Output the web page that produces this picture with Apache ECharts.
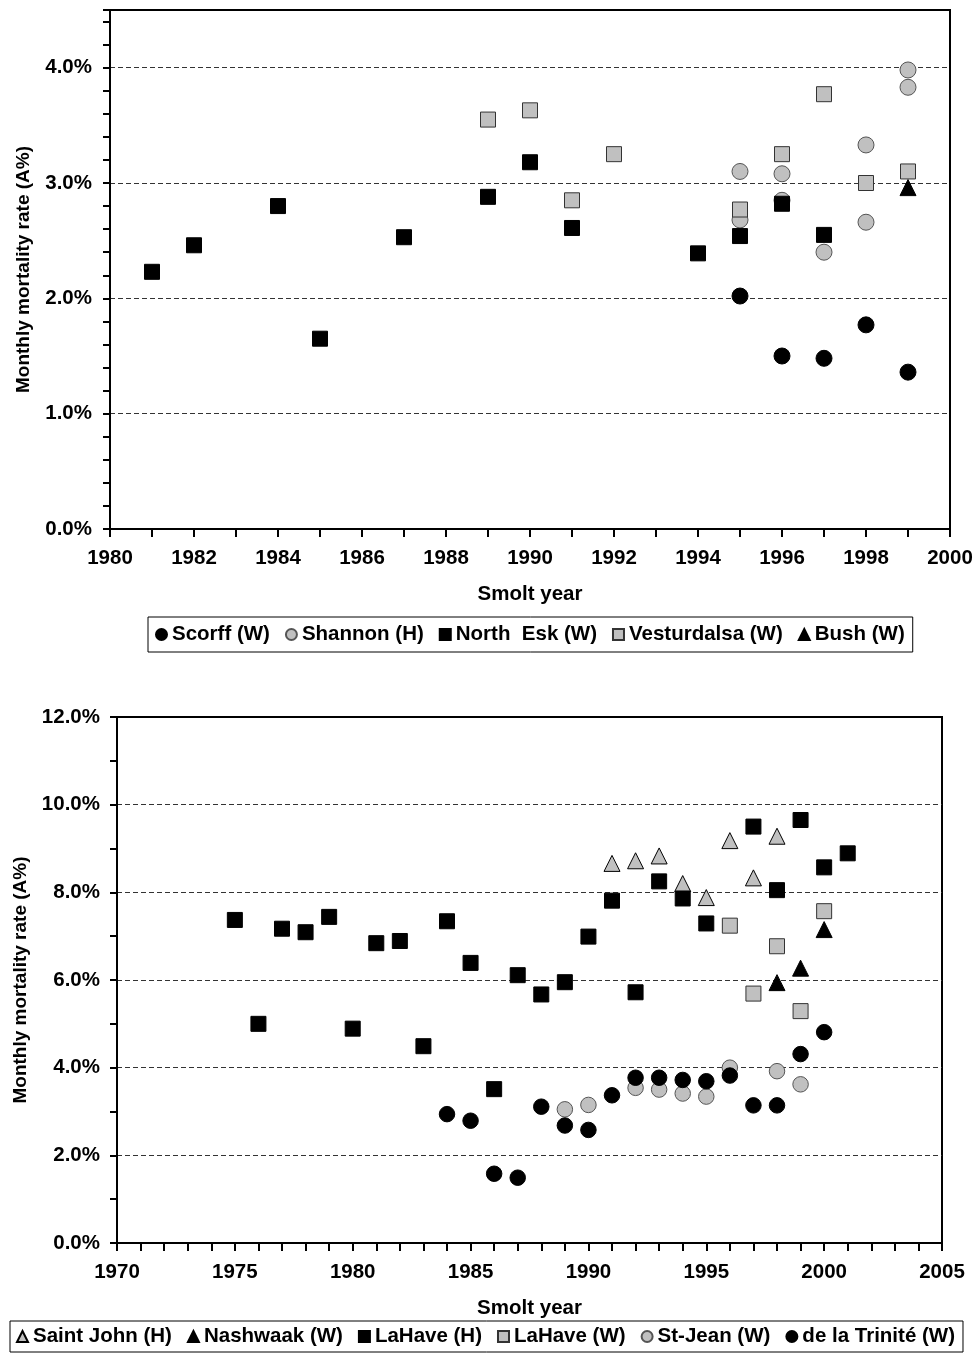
<!DOCTYPE html>
<html>
<head>
<meta charset="utf-8">
<title>Monthly mortality rate by smolt year</title>
<script src="https://cdn.jsdelivr.net/npm/echarts@6/dist/echarts.min.js"></script>
<style>
  html, body { margin: 0; padding: 0; background: #fff; }
  #chart { width: 977px; height: 1355px; }
</style>
</head>
<body>
<div id="chart"></div>
<script>
// ---- Upper panel: European rivers (monthly mortality, %) ----
const scorffYears = [1995, 1996, 1997, 1998, 1999];
const scorffRates = [2.02, 1.50, 1.48, 1.77, 1.36];

const shannonYears = [1995, 1995, 1996, 1996, 1997, 1998, 1998, 1999, 1999];
const shannonRates = [3.10, 2.68, 3.08, 2.85, 2.40, 3.33, 2.66, 3.98, 3.83];

const northEskYears = [1981, 1982, 1984, 1985, 1987, 1989, 1990, 1991, 1994, 1995, 1996, 1997];
const northEskRates = [2.23, 2.46, 2.80, 1.65, 2.53, 2.88, 3.18, 2.61, 2.39, 2.54, 2.82, 2.55];

const vesturdalsaYears = [1989, 1990, 1991, 1992, 1995, 1996, 1997, 1998, 1999];
const vesturdalsaRates = [3.55, 3.63, 2.85, 3.25, 2.77, 3.25, 3.77, 3.00, 3.10];

const bushYears = [1999];
const bushRates = [2.96];

// ---- Lower panel: North American rivers (monthly mortality, %) ----
const saintJohnYears = [1991, 1992, 1993, 1994, 1995, 1996, 1997, 1998];
const saintJohnRates = [8.66, 8.72, 8.83, 8.20, 7.88, 9.18, 8.33, 9.28];

const nashwaakYears = [1998, 1999, 2000];
const nashwaakRates = [5.94, 6.27, 7.15];

const laHaveHYears = [1975, 1976, 1977, 1978, 1979, 1980, 1981, 1982, 1983, 1984, 1985, 1986, 1987,
                      1988, 1989, 1990, 1991, 1992, 1993, 1994, 1995, 1997, 1998, 1999, 2000, 2001];
const laHaveHRates = [7.37, 5.00, 7.17, 7.09, 7.44, 4.89, 6.84, 6.89, 4.49, 7.34, 6.39, 3.51, 6.11,
                      5.67, 5.95, 6.99, 7.81, 5.72, 8.25, 7.86, 7.29, 9.50, 8.05, 9.65, 8.57, 8.89];

const laHaveWYears = [1996, 1997, 1998, 1999, 2000];
const laHaveWRates = [7.24, 5.69, 6.77, 5.29, 7.57];

const stJeanYears = [1989, 1990, 1992, 1993, 1994, 1995, 1996, 1998, 1999];
const stJeanRates = [3.05, 3.15, 3.54, 3.50, 3.41, 3.34, 4.00, 3.92, 3.62];

const triniteYears = [1984, 1985, 1986, 1987, 1988, 1989, 1990, 1991, 1992, 1993, 1994, 1995, 1996,
                      1997, 1998, 1999, 2000];
const triniteRates = [2.94, 2.79, 1.58, 1.49, 3.11, 2.68, 2.58, 3.37, 3.77, 3.77, 3.72, 3.69, 3.82,
                      3.14, 3.14, 4.31, 4.81];

// ---- Names and axis text ----
const upperNames = ['Scorff (W)', 'Shannon (H)', 'North  Esk (W)', 'Vesturdalsa (W)', 'Bush (W)'];
const lowerNames = ['Saint John (H)', 'Nashwaak (W)', 'LaHave (H)', 'LaHave (W)', 'St-Jean (W)', 'de la Trinité (W)'];
const xTitle = 'Smolt year';
const yTitle = 'Monthly mortality rate (A%)';

// ---- Styling helpers ----
const FONT = '"Liberation Sans", Arial, Helvetica, sans-serif';
const textBold = { fontFamily: FONT, fontWeight: 'bold', fontSize: 20.5, color: '#000' };
const BLACK = { color: '#000', borderColor: '#000', borderWidth: 1, opacity: 1 };
const GRAY_SQ = { color: '#c0c0c0', borderColor: '#333', borderWidth: 1, opacity: 1 };
const GRAY_CI = { color: '#c0c0c0', borderColor: '#555', borderWidth: 1, opacity: 1 };
const GRAY_TRI = { color: '#c0c0c0', borderColor: '#000', borderWidth: 1, opacity: 1 };

function pairs(xs, ys) { return xs.map((x, i) => [x, ys[i]]); }

function scatter(name, idx, xs, ys, symbol, size, style) {
  return {
    type: 'scatter', name: name, xAxisIndex: idx, yAxisIndex: idx,
    data: pairs(xs, ys), symbol: symbol, symbolSize: size,
    itemStyle: style, emphasis: { disabled: true }
  };
}

const tickLine = { color: '#000', width: 2 };
const gridLine = { color: '#333', width: 1, type: [5, 3] };

function xAxisFor(idx, min, max, step, minorSplit) {
  return {
    type: 'value', gridIndex: idx, min: min, max: max, interval: step,
    name: xTitle, nameLocation: 'middle', nameGap: 55, nameTextStyle: textBold,
    axisLine: { show: true, onZero: false, lineStyle: { color: '#000', width: 2 } },
    axisTick: { show: true, length: 8, lineStyle: tickLine },
    minorTick: { show: true, splitNumber: minorSplit, length: 8, lineStyle: tickLine },
    splitLine: { show: false },
    axisLabel: Object.assign({ margin: 19, formatter: v => String(v) }, textBold)
  };
}

const option = {
  animation: false,
  backgroundColor: '#fff',
  grid: [
    { left: 110, right: 27, top: 10, height: 519, show: true, borderColor: '#000', borderWidth: 2 },
    { left: 117, right: 35, top: 717, height: 526, show: true, borderColor: '#000', borderWidth: 2 }
  ],
  xAxis: [
    xAxisFor(0, 1980, 2000, 2, 2),
    xAxisFor(1, 1970, 2005, 5, 5)
  ],
  yAxis: [
    {
      type: 'value', gridIndex: 0, min: 0, max: 4.5, interval: 1,
      name: yTitle, nameLocation: 'middle', nameRotate: 90, nameGap: 77,
      nameTextStyle: Object.assign({}, textBold, { fontSize: 19 }),
      axisLine: { show: true, onZero: false, lineStyle: { color: '#000', width: 2 } },
      axisTick: { show: true, length: 7, lineStyle: tickLine },
      minorTick: { show: true, splitNumber: 5, length: 7, lineStyle: tickLine },
      splitLine: { show: true, showMinLine: false, showMaxLine: false, lineStyle: gridLine },
      axisLabel: Object.assign({ margin: 18, showMaxLabel: false, formatter: v => v.toFixed(1) + '%' }, textBold)
    },
    {
      type: 'value', gridIndex: 1, min: 0, max: 12, interval: 2,
      name: yTitle, nameLocation: 'middle', nameRotate: 90, nameGap: 87,
      nameTextStyle: Object.assign({}, textBold, { fontSize: 19 }),
      axisLine: { show: true, onZero: false, lineStyle: { color: '#000', width: 2 } },
      axisTick: { show: true, length: 7, lineStyle: tickLine },
      minorTick: { show: true, splitNumber: 2, length: 7, lineStyle: tickLine },
      splitLine: { show: true, showMinLine: false, showMaxLine: false, lineStyle: gridLine },
      axisLabel: Object.assign({ margin: 17, formatter: v => v.toFixed(1) + '%' }, textBold)
    }
  ],
  legend: [
    {
      data: upperNames, left: 148, top: 617, orient: 'horizontal',
      itemWidth: 11, itemHeight: 11, itemGap: 15, padding: [7, 8, 7, 7],
      borderColor: '#000', borderWidth: 1, selectedMode: false,
      textStyle: textBold
    },
    {
      data: lowerNames, left: 10, top: 1321, orient: 'horizontal',
      itemWidth: 11, itemHeight: 11, itemGap: 15, padding: [5, 8, 5, 6],
      borderColor: '#000', borderWidth: 1, selectedMode: false,
      textStyle: textBold
    }
  ],
  series: [
    scatter(upperNames[0], 0, scorffYears, scorffRates, 'circle', 16, BLACK),
    scatter(upperNames[1], 0, shannonYears, shannonRates, 'circle', 16, GRAY_CI),
    scatter(upperNames[2], 0, northEskYears, northEskRates, 'rect', 15, BLACK),
    scatter(upperNames[3], 0, vesturdalsaYears, vesturdalsaRates, 'rect', 15, GRAY_SQ),
    scatter(upperNames[4], 0, bushYears, bushRates, 'triangle', 16, BLACK),

    scatter(lowerNames[0], 1, saintJohnYears, saintJohnRates, 'triangle', 16, GRAY_TRI),
    scatter(lowerNames[1], 1, nashwaakYears, nashwaakRates, 'triangle', 16, BLACK),
    scatter(lowerNames[2], 1, laHaveHYears, laHaveHRates, 'rect', 15, BLACK),
    scatter(lowerNames[3], 1, laHaveWYears, laHaveWRates, 'rect', 15, GRAY_SQ),
    scatter(lowerNames[4], 1, stJeanYears, stJeanRates, 'circle', 15.5, GRAY_CI),
    scatter(lowerNames[5], 1, triniteYears, triniteRates, 'circle', 15.5, BLACK)
  ]
};

const chart = echarts.init(document.getElementById('chart'), null, { renderer: 'canvas' });
chart.setOption(option);
</script>
</body>
</html>
